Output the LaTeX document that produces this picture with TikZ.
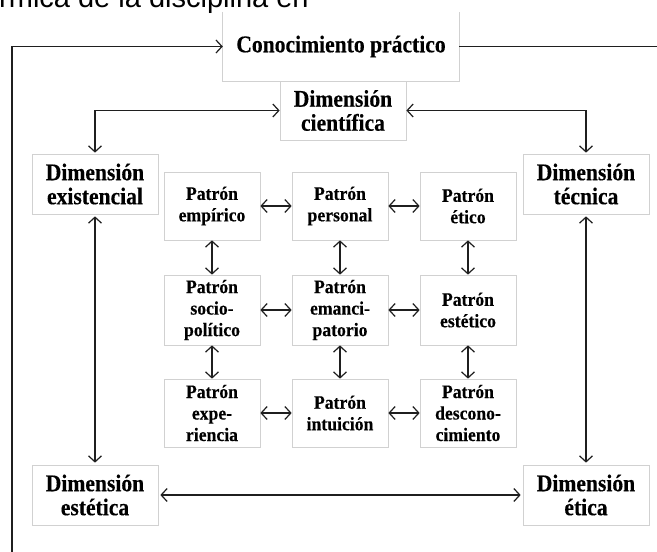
\documentclass[tikz,border=0pt]{standalone}
\usepackage{fontspec}
\setmainfont{Liberation Serif}
\newfontfamily\topfont{Liberation Sans}
\newfontfamily\dimfont[FakeStretch=0.9,FakeBold=0.3]{Liberation Serif}
\newfontfamily\patfont[FakeStretch=0.93,FakeBold=0.3]{Liberation Serif}
\usetikzlibrary{arrows.meta}
\begin{document}
\begin{tikzpicture}[x=1pt,y=-1pt,
  box/.style={draw=black!18, line width=0.7pt, align=center, inner sep=0pt,
    font=\dimfont\bfseries\fontsize{24}{24}\selectfont},
  pbox/.style={draw=black!18, line width=0.7pt, align=center, inner sep=0pt,
    minimum width=96pt, font=\patfont\bfseries\fontsize{19}{21.5}\selectfont},
  conn/.style={line width=1.2pt, draw=black!88,
    arrows={Straight Barb[length=6pt,width=13pt]-Straight Barb[length=6pt,width=13pt]}},
  oneway/.style={line width=1.2pt, draw=black!88,
    arrows={-Straight Barb[length=6pt,width=13pt]}},
  plain/.style={line width=1.2pt, draw=black!88}]
\clip (0,0) rectangle (657,552);
\fill[white] (0,0) rectangle (657,552);

% cut-off heading text
\node[anchor=base west, inner sep=0pt, font=\topfont\fontsize{29}{30}\selectfont] (head) at (-1,7) {rmica de la disciplina en};

% main boxes
\node[align=center, inner sep=0pt, minimum width=236pt, minimum height=69pt,
  font=\dimfont\bfseries\fontsize{24}{24}\selectfont] (conoc) at (341,46.5) {Conocimiento práctico};
\draw[draw=black!18, line width=0.7pt] (conoc.north west) -- (conoc.south west) -- (conoc.south east) -- (conoc.north east);
\node[box, minimum width=126pt, minimum height=59pt, fill=white] (cient) at (343,110.5) {Dimensión\\científica};
\node[box, minimum width=126pt, minimum height=60pt] (exist) at (95,184) {Dimensión\\existencial};
\node[box, minimum width=126pt, minimum height=60pt] (tecn) at (586,184) {Dimensión\\técnica};
\node[box, minimum width=126pt, minimum height=60pt] (estet) at (95,495) {Dimensión\\estética};
\node[box, minimum width=126pt, minimum height=60pt] (etica) at (586,495) {Dimensión\\ética};

% pattern grid
\node[pbox, minimum height=68pt] (p11) at (212,206) {Patrón\\empírico};
\node[pbox, minimum height=68pt] (p12) at (340,206) {Patrón\\personal};
\node[pbox, minimum height=68pt] (p13) at (468,206) {Patrón\\ético};
\node[pbox, minimum height=70pt] (p21) at (212,310) {Patrón\\socio-\\político};
\node[pbox, minimum height=70pt] (p22) at (340,310) {Patrón\\emanci-\\patorio};
\node[pbox, minimum height=70pt] (p23) at (468,310) {Patrón\\estético};
\node[pbox, minimum height=68pt] (p31) at (212,413) {Patrón\\expe-\\riencia};
\node[pbox, minimum height=68pt] (p32) at (340,413) {Patrón\\intuición};
\node[pbox, minimum height=68pt] (p33) at (468,413) {Patrón\\descono-\\cimiento};

% outer connectors
\coordinate (lb) at (12,560);
\coordinate (rb) at (665,46.5);
\draw[oneway] (lb) |- (conoc.west);
\draw[plain] (conoc.east) -- (rb);
\draw[conn, shorten <=1pt] (exist.north) |- (cient.west);
\draw[conn, shorten <=1pt] (tecn.north) |- (cient.east);
\draw[conn, shorten <=2pt, shorten >=2pt] (exist.south) -- (estet.north);
\draw[conn, shorten <=2pt, shorten >=2pt] (tecn.south) -- (etica.north);
\draw[conn, shorten <=2pt, shorten >=2pt] (estet.east) -- (etica.west);

% grid connectors
\foreach \r in {1,2,3}{
  \draw[conn] (p\r1.east) -- (p\r2.west);
  \draw[conn] (p\r2.east) -- (p\r3.west);
}
\foreach \c in {1,2,3}{
  \draw[conn] (p1\c.south) -- (p2\c.north);
  \draw[conn] (p2\c.south) -- (p3\c.north);
}
\end{tikzpicture}
\end{document}
